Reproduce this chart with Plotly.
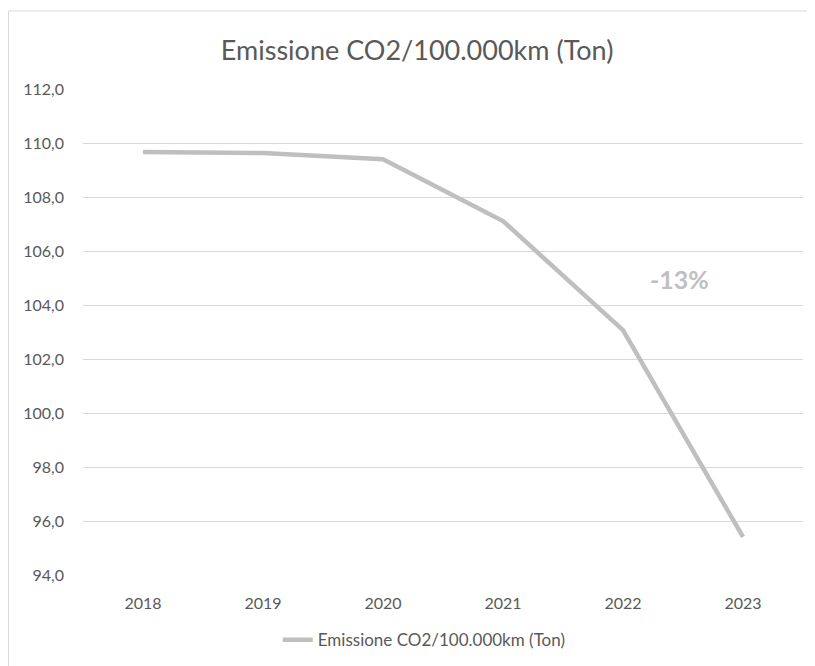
import plotly.graph_objects as go

years = ["2018", "2019", "2020", "2021", "2022", "2023"]
emissions = [109.67, 109.63, 109.40, 107.11, 103.07, 95.41]
series_name = "Emissione CO2/100.000km (Ton)"
title_text = "Emissione CO2/100.000km (Ton)"
note_text = "-13%"

FONT = "Lato"
grey_text = "#595959"
line_col = "#BFBFBF"

fig = go.Figure()
fig.add_trace(go.Scatter(
    x=years, y=emissions, mode="lines", name=series_name,
    line=dict(color=line_col, width=4.5),
    showlegend=True,
))

fig.update_layout(
    width=815, height=666,
    margin=dict(l=75, r=20, t=81, b=99),
    paper_bgcolor="white", plot_bgcolor="white",
    separators=",.",
    font=dict(family=FONT, color=grey_text, size=15),
    title=dict(text=title_text, x=0.502, xanchor="center", y=0.936, yanchor="middle",
               font=dict(family=FONT, size=27, color=grey_text)),
    xaxis=dict(type="category", range=[-0.5, 5.5], showgrid=False, zeroline=False,
               showline=False, ticks="", tickfont=dict(size=16, color=grey_text),
               ticklabelstandoff=17),
    yaxis=dict(range=[94, 112], dtick=2, tickformat=".1f", showgrid=True,
               gridcolor="#D9D9D9", gridwidth=1, zeroline=False, showline=False,
               ticks="", tickfont=dict(size=16, color=grey_text), ticklabelstandoff=18),
    legend=dict(orientation="h", x=0.474, xanchor="center", y=-0.134, yanchor="middle",
                font=dict(size=17, color=grey_text)),
    shapes=[dict(type="rect", xref="paper", yref="paper", x0=-0.1035, x1=1.2,
                 y0=-0.3, y1=1.1605, line=dict(color="#D9D9D9", width=1))],
    annotations=[dict(text="<b>" + note_text + "</b>", x=4.467, y=104.96, xref="x", yref="y",
                      showarrow=False, font=dict(size=25, color=line_col, family=FONT))],
)

fig.write_html("out.html")
